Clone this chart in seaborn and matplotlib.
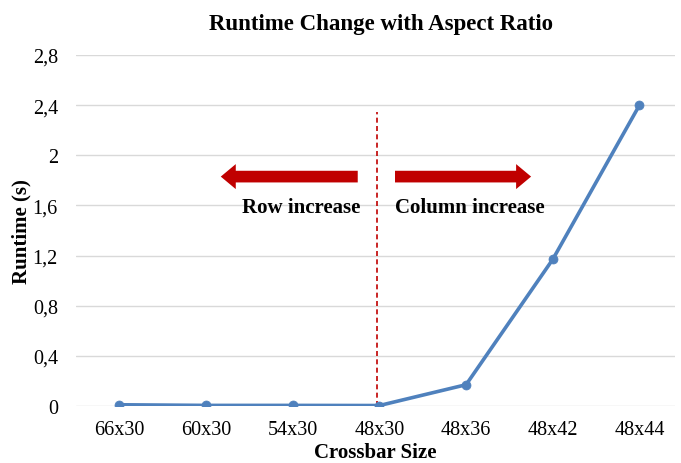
import pandas as pd
import numpy as np
import matplotlib
matplotlib.use('Agg')
import matplotlib.pyplot as plt
import seaborn as sns

# values
sizes = ['66x30', '60x30', '54x30', '48x30', '48x36', '48x42', '48x44']
runtime = [0.01, 0.005, 0.005, 0.004, 0.17, 1.17, 2.40]
yticks = [0, 0.4, 0.8, 1.2, 1.6, 2.0, 2.4, 2.8]
ytick_labels = ['0', '0,4', '0,8', '1,2', '1,6', '2', '2,4', '2,8']

sns.set_theme(style='white')
plt.rcParams['font.family'] = ['Liberation Serif', 'DejaVu Serif']
plt.rcParams['text.color'] = 'black'
plt.rcParams['axes.labelcolor'] = 'black'
plt.rcParams['xtick.color'] = 'black'
plt.rcParams['ytick.color'] = 'black'

df = pd.DataFrame({'size': sizes, 'runtime': runtime})
df['pos'] = np.arange(len(df))

fig = plt.figure(figsize=(6.81, 4.64), dpi=100)
ax = fig.add_axes([0.1116, 0.1228, 0.8796, 0.7565])

for y in yticks:
    ax.axhline(y, color='#d9d9d9', lw=1, zorder=0)

blue = '#4f81bd'
red = '#c00000'
sns.lineplot(data=df, x='pos', y='runtime', color=blue, lw=2.6, ax=ax, zorder=3)
sns.scatterplot(data=df, x='pos', y='runtime', color=blue, s=42, edgecolor=blue, ax=ax, zorder=4)

# divider between row and column growth
ax.plot([2.97, 2.97], [0, 2.345], color=red, lw=1.2, ls=(0, (3, 2)), zorder=2)

arrow = 'simple,head_length=0.9,head_width=1.5,tail_width=0.7'
ax.annotate('', xy=(1.17, 1.83), xytext=(2.75, 1.83),
            arrowprops=dict(arrowstyle=arrow, color=red, lw=0, shrinkA=0, shrinkB=0))
ax.annotate('', xy=(4.75, 1.83), xytext=(3.18, 1.83),
            arrowprops=dict(arrowstyle=arrow, color=red, lw=0, shrinkA=0, shrinkB=0))
ax.text(2.10, 1.59, 'Row increase', ha='center', va='center', fontsize=15, fontweight='bold')
ax.text(4.04, 1.59, 'Column increase', ha='center', va='center', fontsize=15, fontweight='bold')

ax.set_xlim(-0.5, 6.41)
ax.set_ylim(0, 2.8)
ax.set_xticks(df['pos'])
ax.set_xticklabels(sizes, fontsize=14.5)
ax.set_yticks(yticks)
ax.set_yticklabels(ytick_labels, fontsize=14.5)
ax.tick_params(axis='x', length=0, pad=10)
ax.tick_params(axis='y', length=0, pad=13)
for s in ax.spines.values():
    s.set_visible(False)

ax.set_xlabel('Crossbar Size', fontsize=15, fontweight='bold', labelpad=2)
ax.set_ylabel('Runtime (s)', fontsize=15, fontweight='bold', labelpad=1)
fig.suptitle('Runtime Change with Aspect Ratio', x=0.559, y=0.97, fontsize=16.5, fontweight='bold')

plt.savefig('out.png', dpi=100)
